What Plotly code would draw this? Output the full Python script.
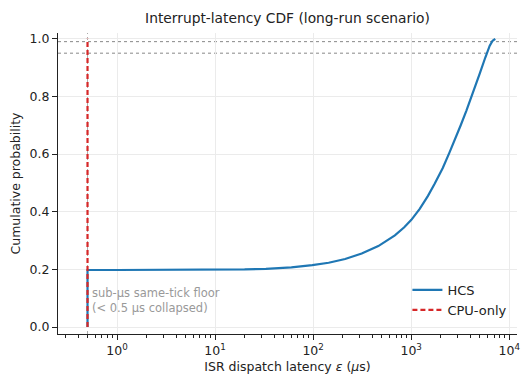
import math
import plotly.graph_objects as go

# ---- data ----
hcs_x = [0.5, 0.5, 1, 3, 10, 20, 33, 60, 98, 144, 212, 313, 462, 682, 850, 1004,
         1222, 1483, 1735, 2100, 2455, 2800, 3200, 3650, 4140, 4550, 5010, 5700, 6310, 6760, 7200]
hcs_y = [0.0, 0.198, 0.198, 0.198, 0.199, 0.200, 0.202, 0.207, 0.215, 0.223, 0.236, 0.255,
         0.281, 0.318, 0.346, 0.372, 0.410, 0.455, 0.497, 0.552, 0.605, 0.650, 0.700,
         0.750, 0.800, 0.838, 0.880, 0.935, 0.975, 0.993, 1.0]
cpu_x = [0.5, 0.5]
cpu_y = [0.0, 1.0]
ref_levels = [0.95, 0.99]
x_tickvals = [1, 10, 100, 1000, 10000]
x_ticktext = ["10<sup>0</sup>", "10<sup>1</sup>", "10<sup>2</sup>", "10<sup>3</sup>", "10<sup>4</sup>"]
y_tickvals = [0.0, 0.2, 0.4, 0.6, 0.8, 1.0]
y_ticktext = ["0.0", "0.2", "0.4", "0.6", "0.8", "1.0"]
x_minor = [d * 10 ** e for e in range(-1, 5) for d in range(2, 10)]

FONT = "DejaVu Sans"
fig = go.Figure()

fig.add_trace(go.Scatter(x=hcs_x, y=hcs_y, mode="lines", name="HCS",
                         line=dict(color="#1f77b4", width=2.2)))
fig.add_trace(go.Scatter(x=cpu_x, y=cpu_y, mode="lines", name="CPU-only",
                         line=dict(color="#d62728", width=2.2, dash="5px,3px")))

for lv in ref_levels:
    fig.add_hline(y=lv, line=dict(color="#888888", width=1, dash="dot"), layer="below")
fig.add_vline(x=cpu_x[0], line=dict(color="#aaaaaa", width=1, dash="dot"), layer="below")

fig.add_annotation(x=math.log10(cpu_x[0]), y=0.092, xref="x", yref="y",
                   text="sub-μs same-tick floor<br>(< 0.5 μs collapsed)",
                   showarrow=False, xanchor="left", yanchor="middle", xshift=2, align="left",
                   font=dict(family=FONT, size=11.5, color="#999999"))

fig.update_layout(
    width=521, height=379,
    margin=dict(l=58, r=1, t=33, b=45),
    paper_bgcolor="white", plot_bgcolor="white",
    title=dict(text="Interrupt-latency CDF (long-run scenario)", x=0.5, xref="paper", xanchor="center",
               y=1 - 18 / 379, yanchor="middle", font=dict(family=FONT, size=13.8, color="#222")),
    font=dict(family=FONT, size=12, color="#222"),
    showlegend=True,
    legend=dict(x=0.99, y=0.03, xanchor="right", yanchor="bottom", bgcolor="rgba(255,255,255,0)",
                font=dict(family=FONT, size=13, color="#222"), tracegroupgap=2),
)

fig.update_xaxes(type="log", range=[math.log10(0.25), math.log10(12000)],
                 tickvals=x_tickvals, ticktext=x_ticktext, ticklabeloverflow="allow",
                 showline=True, linecolor="#222", linewidth=1.2, mirror=False,
                 ticks="outside", ticklen=5, tickcolor="#222",
                 showgrid=True, gridcolor="#ebebeb", gridwidth=1, zeroline=False,
                 minor=dict(tickvals=x_minor, ticks="outside", ticklen=2.5, tickcolor="#222",
                            showgrid=False),
                 title=dict(text="ISR dispatch latency <i>ε</i> (<i>μ</i>s)", standoff=5,
                            font=dict(family=FONT, size=12.5)),
                 tickfont=dict(family=FONT, size=12.5))
fig.update_yaxes(range=[-0.024, 1.02], tickvals=y_tickvals, ticktext=y_ticktext,
                 showline=True, linecolor="#222", linewidth=1.2,
                 ticks="outside", ticklen=5, tickcolor="#222",
                 showgrid=True, gridcolor="#ebebeb", gridwidth=1, zeroline=False,
                 title=dict(text="Cumulative probability", standoff=6,
                            font=dict(family=FONT, size=12.5)),
                 tickfont=dict(family=FONT, size=12.5))

fig.write_html("out.html")
